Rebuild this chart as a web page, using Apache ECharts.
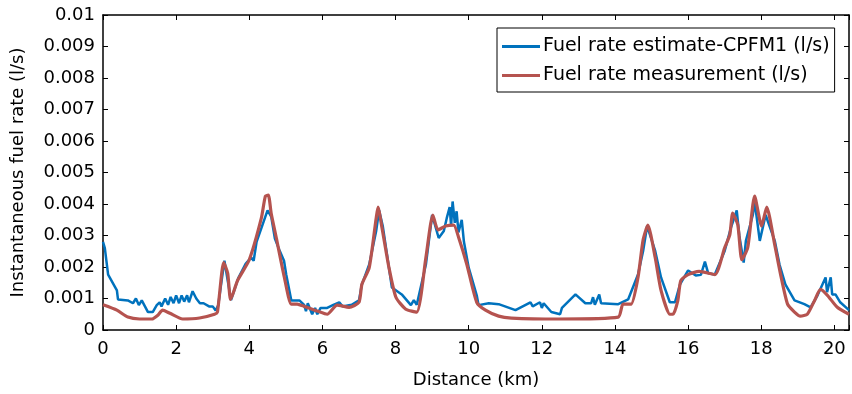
<!DOCTYPE html>
<html>
<head>
<meta charset="utf-8">
<script src="https://cdn.jsdelivr.net/npm/echarts@6/dist/echarts.min.js"></script>
<style>
  html, body { margin: 0; padding: 0; background: #fff; }
  #chart { width: 852px; height: 394px; }
</style>
</head>
<body>
<div id="chart"></div>
<script>
// distance (km) / rate (l/s)
const estDistance = [0.0, 0.05, 0.14, 0.38, 0.41, 0.68, 0.82, 0.9, 0.98, 1.06, 1.23, 1.36, 1.47, 1.55, 1.6, 1.7, 1.78, 1.85, 1.93, 2.0,
  2.08, 2.15, 2.22, 2.3, 2.35, 2.45, 2.55, 2.65, 2.75, 2.9, 3.0, 3.08, 3.15, 3.32, 3.5, 3.7, 3.9, 4.05, 4.12, 4.2,
  4.35, 4.44, 4.5, 4.6, 4.7, 4.82, 4.95, 5.01, 5.15, 5.37, 5.5, 5.55, 5.6, 5.72, 5.8, 5.86, 5.95, 6.13, 6.3, 6.46,
  6.55, 6.8, 7.0, 7.08, 7.28, 7.47, 7.55, 7.65, 7.9, 8.17, 8.42, 8.5, 8.58, 8.83, 9.0, 9.18, 9.32, 9.4, 9.48, 9.52,
  9.56, 9.62, 9.67, 9.72, 9.81, 9.87, 10.0, 10.22, 10.27, 10.55, 10.82, 11.28, 11.69, 11.75, 11.95, 12.0, 12.05, 12.26, 12.5, 12.55,
  12.92, 13.19, 13.35, 13.4, 13.45, 13.57, 13.62, 14.09, 14.36, 14.63, 14.77, 14.88, 14.93, 15.1, 15.26, 15.5, 15.64, 15.78, 16.0, 16.21,
  16.35, 16.46, 16.55, 16.73, 17.0, 17.17, 17.33, 17.4, 17.52, 17.58, 17.77, 17.82, 17.96, 18.12, 18.37, 18.5, 18.66, 18.91, 19.18, 19.35,
  19.54, 19.76, 19.8, 19.9, 19.94, 20.03, 20.16, 20.4];
const estRate = [0.0028, 0.0026, 0.00176, 0.00126, 0.00097, 0.00094, 0.00085, 0.001, 0.00079, 0.00094, 0.00057, 0.00057, 0.00079, 0.00088, 0.00075, 0.001, 0.0008, 0.00105, 0.00085, 0.0011,
  0.00085, 0.0011, 0.0009, 0.0011, 0.00088, 0.00123, 0.001, 0.00085, 0.00085, 0.00075, 0.00075, 0.00062, 0.00078, 0.0022, 0.00095, 0.00165, 0.0021, 0.0023, 0.0022, 0.0028,
  0.0033, 0.0036, 0.0038, 0.0036, 0.0029, 0.00255, 0.0022, 0.00176, 0.00094, 0.00094, 0.0008, 0.0006, 0.00085, 0.0005, 0.0007, 0.0005, 0.0007, 0.0007, 0.0008, 0.00088,
  0.00075, 0.0008, 0.00094, 0.00145, 0.00208, 0.00314, 0.0038, 0.0033, 0.00135, 0.00113, 0.00079, 0.00095, 0.0008, 0.00208, 0.00365, 0.00292, 0.00314, 0.00355, 0.0039, 0.0033,
  0.00408, 0.0034, 0.00377, 0.0031, 0.0035, 0.0028, 0.00198, 0.0011, 0.00079, 0.00085, 0.00082, 0.00063, 0.00088, 0.00075, 0.00088, 0.0007, 0.00085, 0.00057, 0.0005, 0.0007,
  0.00113, 0.00085, 0.00085, 0.00104, 0.0008, 0.00113, 0.00085, 0.00082, 0.00097, 0.00176, 0.00251, 0.0033, 0.0033, 0.00251, 0.00167, 0.00088, 0.00088, 0.00145, 0.00189, 0.00173,
  0.00175, 0.00217, 0.0018, 0.00176, 0.00251, 0.00324, 0.0038, 0.003, 0.00214, 0.00283, 0.00365, 0.00408, 0.00283, 0.00365, 0.00283, 0.00208, 0.00145, 0.00094, 0.00082, 0.00072,
  0.0011, 0.00167, 0.0012, 0.00167, 0.00113, 0.00113, 0.00088, 0.00063];

const measDistance = [0.0, 0.38, 0.68, 1.0, 1.34, 1.5, 1.63, 1.83, 2.18, 2.64, 3.05, 3.13, 3.3, 3.41, 3.49, 3.68, 4.0, 4.33, 4.44, 4.52,
  4.6, 4.74, 4.96, 5.15, 5.31, 5.5, 5.72, 5.86, 6.13, 6.4, 6.73, 7.0, 7.08, 7.28, 7.47, 7.52, 7.63, 7.82, 8.01, 8.28,
  8.58, 8.83, 9.02, 9.16, 9.37, 9.59, 9.73, 9.95, 10.22, 10.46, 10.82, 11.17, 12.45, 14.09, 14.22, 14.44, 14.63, 14.77, 14.9, 15.1,
  15.26, 15.5, 15.59, 15.72, 15.8, 16.0, 16.3, 16.73, 17.0, 17.14, 17.22, 17.36, 17.47, 17.63, 17.82, 18.01, 18.15, 18.37, 18.53, 18.72,
  18.91, 19.07, 19.26, 19.46, 19.62, 19.81, 20.08, 20.4];
const measRate = [0.0008, 0.00063, 0.00041, 0.00035, 0.00035, 0.00047, 0.00063, 0.00053, 0.00035, 0.00038, 0.0005, 0.00057, 0.00214, 0.0018, 0.00097, 0.00157, 0.00223, 0.00355, 0.00425, 0.00428,
  0.0037, 0.00292, 0.00167, 0.00082, 0.00082, 0.00075, 0.00066, 0.0006, 0.0005, 0.00079, 0.00072, 0.00088, 0.00145, 0.00198, 0.00355, 0.0039, 0.00324, 0.00198, 0.00104, 0.00066,
  0.00057, 0.0023, 0.00365, 0.00318, 0.0033, 0.00333, 0.00292, 0.00208, 0.00088, 0.00063, 0.00044, 0.00038, 0.00035, 0.00041, 0.00082, 0.00082, 0.00167, 0.00286, 0.00333, 0.0023,
  0.00126, 0.0005, 0.0005, 0.00094, 0.00157, 0.00176, 0.00186, 0.00176, 0.00261, 0.00302, 0.00371, 0.00333, 0.00223, 0.00261, 0.00425, 0.0033, 0.0039, 0.0027, 0.00176, 0.00082,
  0.00057, 0.00044, 0.0005, 0.00094, 0.00129, 0.0011, 0.00072, 0.0005];

const xTicks = [0, 2, 4, 6, 8, 10, 12, 14, 16, 18, 20];
const yTickLabels = ['0', '0.001', '0.002', '0.003', '0.004', '0.005', '0.006', '0.007', '0.008', '0.009', '0.01'];

const zip = (xs, ys) => xs.map((x, i) => [x, ys[i]]);

const FONT = 'DejaVu Sans';
const chart = echarts.init(document.getElementById('chart'));

const tickIn = { show: true, inside: true, length: 5, lineStyle: { color: '#000', width: 1 } };

chart.setOption({
  animation: false,
  backgroundColor: '#fff',
  textStyle: { fontFamily: FONT },
  grid: { left: 103, top: 15, right: 1, bottom: 61, show: false },
  legend: {
    orient: 'vertical',
    left: 497,
    top: 28,
    padding: [9, 5, 7, 5],
    itemGap: 10,
    itemWidth: 38,
    itemHeight: 3,
    icon: 'rect',
    borderColor: '#000',
    borderWidth: 1,
    borderRadius: 0,
    backgroundColor: '#fff',
    textStyle: { fontFamily: FONT, fontSize: 19, color: '#000', padding: [0, 0, 0, -2] },
    data: ['Fuel rate estimate-CPFM1 (l/s)', 'Fuel rate measurement (l/s)']
  },
  xAxis: [{
    type: 'value',
    min: 0,
    max: 20.4,
    interval: 2,
    name: 'Distance (km)',
    nameLocation: 'middle',
    nameGap: 41,
    nameTextStyle: { fontFamily: FONT, fontSize: 18, color: '#000' },
    axisLine: { show: true, onZero: false, lineStyle: { color: '#000', width: 1.5 } },
    axisTick: tickIn,
    splitLine: { show: false },
    axisLabel: {
      fontFamily: FONT, fontSize: 18, color: '#000', margin: 10,
      formatter: v => xTicks.includes(v) ? String(v) : ''
    }
  }, {
    type: 'value',
    position: 'top',
    min: 0,
    max: 20.4,
    interval: 2,
    axisLine: { show: true, onZero: false, lineStyle: { color: '#000', width: 1.5 } },
    axisTick: tickIn,
    axisLabel: { show: false },
    splitLine: { show: false }
  }],
  yAxis: [{
    type: 'value',
    min: 0,
    max: 0.01,
    interval: 0.001,
    name: 'Instantaneous fuel rate (l/s)',
    nameLocation: 'middle',
    nameGap: 76,
    nameTextStyle: { fontFamily: FONT, fontSize: 18, color: '#000' },
    axisLine: { show: true, onZero: false, lineStyle: { color: '#000', width: 1.5 } },
    axisTick: tickIn,
    splitLine: { show: false },
    axisLabel: {
      fontFamily: FONT, fontSize: 18, color: '#000', margin: 8,
      formatter: v => yTickLabels[Math.round(v * 1000)]
    }
  }, {
    type: 'value',
    position: 'right',
    min: 0,
    max: 0.01,
    interval: 0.001,
    axisLine: { show: true, onZero: false, lineStyle: { color: '#000', width: 1.5 } },
    axisTick: tickIn,
    axisLabel: { show: false },
    splitLine: { show: false }
  }],
  series: [{
    name: 'Fuel rate estimate-CPFM1 (l/s)',
    type: 'line',
    symbol: 'none',
    color: '#0072BD',
    lineStyle: { width: 2.5, color: '#0072BD' },
    data: zip(estDistance, estRate)
  }, {
    name: 'Fuel rate measurement (l/s)',
    type: 'line',
    symbol: 'none',
    smooth: 0.2,
    color: '#B5534F',
    lineStyle: { width: 3.2, color: '#B5534F' },
    data: zip(measDistance, measRate)
  }]
});
</script>
</body>
</html>
